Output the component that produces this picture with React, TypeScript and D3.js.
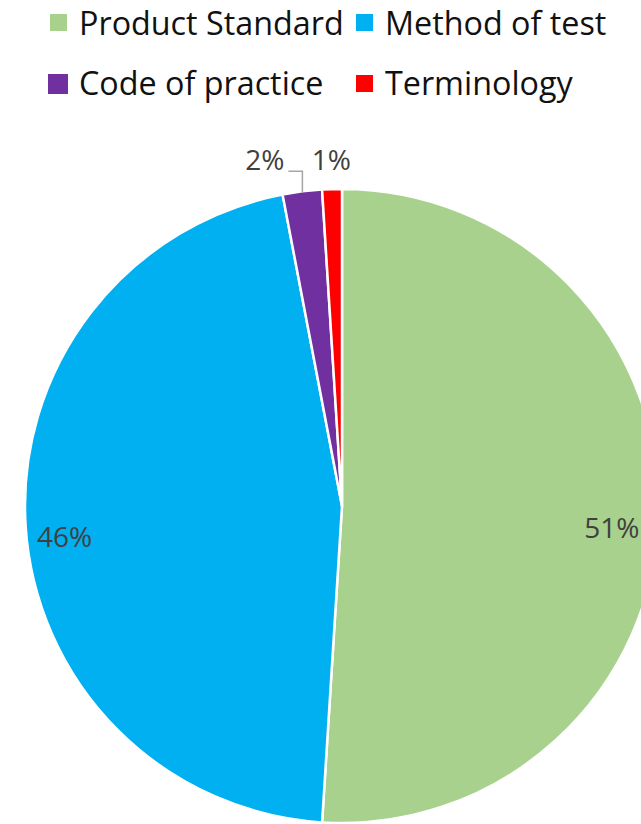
import React from "react";
import * as d3 from "d3";

const categories = ["Product Standard", "Method of test", "Code of practice", "Terminology"];
const values = [51, 46, 2, 1];
const colors = ["#A9D18E", "#00B0F0", "#7030A0", "#FF0000"];
const labels = ["51%", "46%", "2%", "1%"];

const W = 641;
const H = 824;
const cx = 342;
const cy = 506;
const R = 317;
const FONT = "'Open Sans', 'Noto Sans', sans-serif";

const legendItems = [
  { i: 0, x: 50, y: 14, s: 17, tx: 79, ty: 35 },
  { i: 1, x: 356, y: 14, s: 17, tx: 385, ty: 35 },
  { i: 2, x: 48, y: 74, s: 20, tx: 79, ty: 95 },
  { i: 3, x: 356, y: 75, s: 17, tx: 385, ty: 95 },
];

export default function App() {
  const pie = d3.pie<number>().sort(null).value((d) => d);
  const arcs = pie(values);
  const arc = d3.arc<d3.PieArcDatum<number>>().innerRadius(0).outerRadius(R);
  const labelArc = d3.arc<d3.PieArcDatum<number>>().innerRadius(274).outerRadius(274);
  const outerArc = d3.arc<d3.PieArcDatum<number>>().innerRadius(344).outerRadius(344);
  const edgeArc = d3.arc<d3.PieArcDatum<number>>().innerRadius(R - 1).outerRadius(R - 1);

  return (
    <svg width={W} height={H} style={{ position: "absolute", left: 0, top: 0 }}>
      <rect width={W} height={H} fill="#fff" />
      {legendItems.map((l) => (
        <g key={l.i}>
          <rect x={l.x} y={l.y} width={l.s} height={l.s} fill={colors[l.i]} />
          <text x={l.tx} y={l.ty} fontFamily={FONT} fontSize={32.3} fill="#111">
            {categories[l.i]}
          </text>
        </g>
      ))}
      <g transform={`translate(${cx},${cy})`}>
        {arcs.map((a, i) => (
          <path key={i} d={arc(a) || ""} fill={colors[i]} stroke="#fff" strokeWidth={2.5} />
        ))}
        {arcs.map((a, i) => {
          if (values[i] >= 10) {
            const [x, y] = labelArc.centroid(a);
            return (
              <text key={"l" + i} x={x - 4} y={y + 16} textAnchor="middle" dominantBaseline="middle"
                fontFamily={FONT} fontSize={28} fill="#404040">
                {labels[i]}
              </text>
            );
          }
          return null;
        })}
        {(() => {
          const a1 = arcs[3];
          const [x1, y1] = outerArc.centroid(a1);
          const a2 = arcs[2];
          const [ex, ey] = edgeArc.centroid(a2);
          const elbowY = y1 + 9;
          const lineEndX = ex - 14;
          return (
            <g>
              <text x={x1} y={y1} textAnchor="middle" dominantBaseline="middle"
                fontFamily={FONT} fontSize={28} fill="#404040">
                {labels[3]}
              </text>
              <polyline points={`${ex},${ey} ${ex},${elbowY} ${lineEndX},${elbowY}`}
                fill="none" stroke="#A6A6A6" strokeWidth={1.5} />
              <text x={lineEndX - 4} y={y1} textAnchor="end" dominantBaseline="middle"
                fontFamily={FONT} fontSize={28} fill="#404040">
                {labels[2]}
              </text>
            </g>
          );
        })()}
      </g>
    </svg>
  );
}
